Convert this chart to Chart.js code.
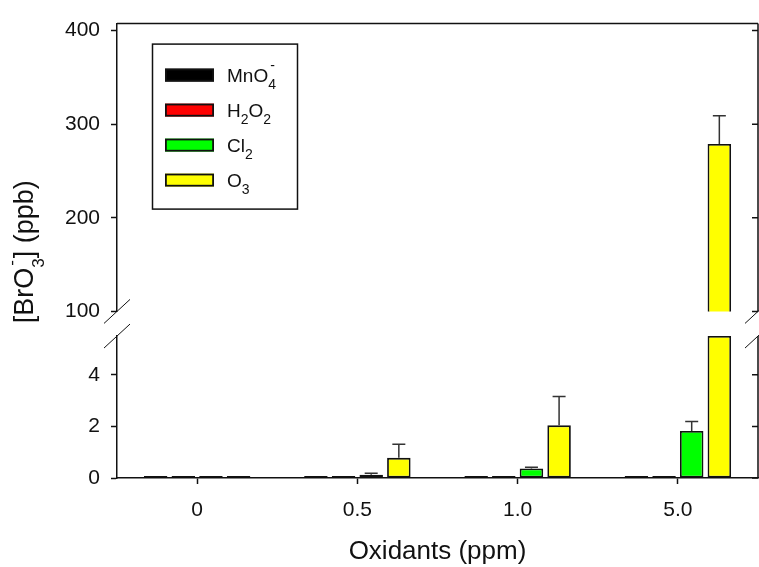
<!DOCTYPE html>
<html>
<head>
<meta charset="utf-8">
<script src="https://cdn.jsdelivr.net/npm/chart.js@4.4.1/dist/chart.umd.min.js"></script>
<style>
  html, body { margin: 0; padding: 0; background: #fff; }
</style>
</head>
<body>
<canvas id="chart" width="759" height="567"></canvas>
<script>
// data (ppb)
const categories = ['0', '0.5', '1.0', '5.0'];
const mno4 = [0.05, 0.05, 0.05, 0.05];
const h2o2 = [0.05, 0.05, 0.05, 0.05];
const cl2 = [0.05, 0.13, 0.37, 1.82];
const o3 = [0.05, 0.78, 2.04, 279];
const mno4Err = [0, 0, 0, 0];
const h2o2Err = [0, 0, 0, 0];
const cl2Err = [0, 0.05, 0.05, 0.37];
const o3Err = [0, 0.53, 1.12, 30];

// broken y axis: two ranges
const lowTicks = [0, 2, 4];
const highTicks = [100, 200, 300, 400];
const lowRange = [0, 5.5];
const highRange = [100, 407.5];

const FONT = '"Liberation Sans", Arial, Helvetica, sans-serif';
const INK = '#111';

// [text, kind]: 0 normal, 1 subscript, -1 superscript (sits over the preceding subscript)
const series = [
  { parts: [['MnO', 0], ['4', 1], ['-', -1]], values: mno4, errs: mno4Err, color: '#000000' },
  { parts: [['H', 0], ['2', 1], ['O', 0], ['2', 1]], values: h2o2, errs: h2o2Err, color: '#ff0000' },
  { parts: [['Cl', 0], ['2', 1]], values: cl2, errs: cl2Err, color: '#00ff00' },
  { parts: [['O', 0], ['3', 1]], values: o3, errs: o3Err, color: '#ffff00' }
];

function drawRich(ctx, parts, x, y, size, subSize, dryRun) {
  let px = x, prevX = x;
  parts.forEach(([text, kind]) => {
    const fs = kind === 0 ? size : subSize;
    ctx.font = fs + 'px ' + FONT;
    const dy = kind === 1 ? size * 0.4 : kind === -1 ? -size * 0.6 : 0;
    const startX = kind === -1 ? prevX + 2 : px;
    if (!dryRun) ctx.fillText(text, startX, y + dy);
    const w = ctx.measureText(text).width;
    prevX = startX;
    px = Math.max(px, startX + w);
  });
  return px - x;
}

const datasets = [];
series.forEach((s, i) => {
  datasets.push({
    label: s.parts.map(p => p[0]).join(''),
    yAxisID: 'yLow',
    stack: 's' + i,
    data: s.values.map(v => Math.min(v, lowRange[1])),
    backgroundColor: s.color,
    values: s.values,
    errs: s.errs
  });
  datasets.push({
    label: s.parts.map(p => p[0]).join('') + ' upper',
    yAxisID: 'yTop',
    stack: 's' + i,
    data: s.values.map(v => v > highRange[0] ? v : null),
    backgroundColor: s.color,
    values: s.values,
    errs: s.errs
  });
});

const errorBarPlugin = {
  id: 'errorBars',
  afterDatasetsDraw(chart) {
    const ctx = chart.ctx;
    ctx.save();
    ctx.strokeStyle = '#333';
    ctx.lineWidth = 1.5;
    chart.data.datasets.forEach((ds, di) => {
      const meta = chart.getDatasetMeta(di);
      const scale = chart.scales[ds.yAxisID];
      ds.values.forEach((v, i) => {
        const e = ds.errs[i];
        const top = v + e;
        if (!e || ds.data[i] === null || top > scale.max || v < scale.min) return;
        const bar = meta.data[i];
        const y = scale.getPixelForValue(top);
        ctx.beginPath();
        ctx.moveTo(bar.x, bar.y);
        ctx.lineTo(bar.x, y);
        ctx.moveTo(bar.x - 6.5, y);
        ctx.lineTo(bar.x + 6.5, y);
        ctx.stroke();
      });
    });
    ctx.restore();
  }
};

// top/right frame, inner ticks on the right, axis break marks
const framePlugin = {
  id: 'frame',
  afterDraw(chart) {
    const { ctx, chartArea: a, scales } = chart;
    const hi = scales.yTop, lo = scales.yLow;
    ctx.save();
    ctx.strokeStyle = INK;
    ctx.lineWidth = 1.5;
    ctx.beginPath();
    ctx.moveTo(a.left, a.top);
    ctx.lineTo(a.right, a.top);
    ctx.moveTo(a.right, a.top);
    ctx.lineTo(a.right, hi.bottom);
    ctx.moveTo(a.right, lo.top);
    ctx.lineTo(a.right, lo.bottom);
    highTicks.forEach(v => {
      const y = hi.getPixelForValue(v);
      ctx.moveTo(a.right - 6, y);
      ctx.lineTo(a.right, y);
    });
    lowTicks.forEach(v => {
      const y = lo.getPixelForValue(v);
      ctx.moveTo(a.right - 6, y);
      ctx.lineTo(a.right, y);
    });
    ctx.stroke();
    ctx.lineWidth = 1;
    ctx.beginPath();
    [a.left, a.right].forEach(x => {
      [hi.bottom, lo.top].forEach(y => {
        ctx.moveTo(x - 13, y + 12);
        ctx.lineTo(x + 13, y - 12);
      });
    });
    ctx.stroke();
    ctx.restore();
  }
};

const legendPlugin = {
  id: 'boxLegend',
  afterDraw(chart) {
    const { ctx, chartArea: a } = chart;
    const bx = a.left + 35, by = a.top + 20;
    ctx.save();
    ctx.strokeStyle = INK;
    ctx.lineWidth = 1.5;
    ctx.strokeRect(bx + 0.5, by + 0.5, 145, 165);
    series.forEach((s, i) => {
      const cy = by + 31.5 + i * 35;
      ctx.fillStyle = s.color;
      ctx.fillRect(bx + 13, cy - 6.5, 49, 13);
      ctx.lineWidth = 1.8;
      ctx.strokeRect(bx + 13.9, cy - 5.6, 47.2, 11.2);
      ctx.fillStyle = INK;
      ctx.textBaseline = 'alphabetic';
      ctx.textAlign = 'left';
      drawRich(ctx, s.parts, bx + 75, cy + 6.5, 19, 14);
    });
    ctx.restore();
  }
};

const yTitleParts = [['[BrO', 0], ['3', 1], ['-', -1], [']', 0], [' (ppb)', 0]];
const yTitlePlugin = {
  id: 'yTitle',
  afterDraw(chart) {
    const { ctx, chartArea: a } = chart;
    ctx.save();
    ctx.fillStyle = INK;
    ctx.textBaseline = 'alphabetic';
    ctx.textAlign = 'left';
    const w = drawRich(ctx, yTitleParts, 0, 0, 27, 17, true);
    ctx.translate(33, (a.top + a.bottom) / 2 + 1);
    ctx.rotate(-Math.PI / 2);
    drawRich(ctx, yTitleParts, -w / 2, 0, 27, 17);
    ctx.restore();
  }
};

const yScale = (range, ticks, weight) => ({
  type: 'linear',
  position: 'left',
  stack: 'y',
  stackWeight: weight,
  stacked: false,
  min: range[0],
  max: range[1],
  afterBuildTicks: s => { s.ticks = ticks.map(v => ({ value: v })); },
  afterFit: s => { s.width = 117; },
  grid: { drawOnChartArea: false, drawTicks: true, tickLength: 6, tickColor: INK, tickWidth: 1.5 },
  border: { display: true, color: INK, width: 1.5 },
  ticks: { padding: 11, color: INK, font: { family: FONT, size: 21 } }
});

new Chart(document.getElementById('chart'), {
  type: 'bar',
  data: { labels: categories, datasets: datasets },
  options: {
    responsive: false,
    animation: false,
    layout: { padding: { left: 0, top: 17, right: 1, bottom: 0 } },
    plugins: { legend: { display: false }, tooltip: { enabled: false } },
    datasets: {
      bar: {
        categoryPercentage: 0.69,
        barPercentage: 0.85,
        borderWidth: 1.8,
        borderColor: INK,
        borderSkipped: false,
        minBarLength: 2
      }
    },
    scales: {
      x: {
        afterFit: s => { s.height = 89; },
        grid: { offset: false, drawOnChartArea: false, drawTicks: true, tickLength: 6, tickColor: INK, tickWidth: 1.5 },
        border: { display: true, color: INK, width: 1.5 },
        ticks: { padding: 14, color: INK, font: { family: FONT, size: 21 } },
        title: { display: true, text: 'Oxidants (ppm)', color: INK, font: { family: FONT, size: 26 }, padding: { top: 1.5, bottom: 0 } }
      },
      // left boxes are laid out outward-first, so the stack is listed bottom to top
      yLow: yScale(lowRange, lowTicks, 144),
      yGap: { type: 'linear', position: 'left', stack: 'y', stackWeight: 25, display: false },
      yTop: yScale(highRange, highTicks, 292)
    }
  },
  plugins: [errorBarPlugin, framePlugin, legendPlugin, yTitlePlugin]
});
</script>
</body>
</html>
